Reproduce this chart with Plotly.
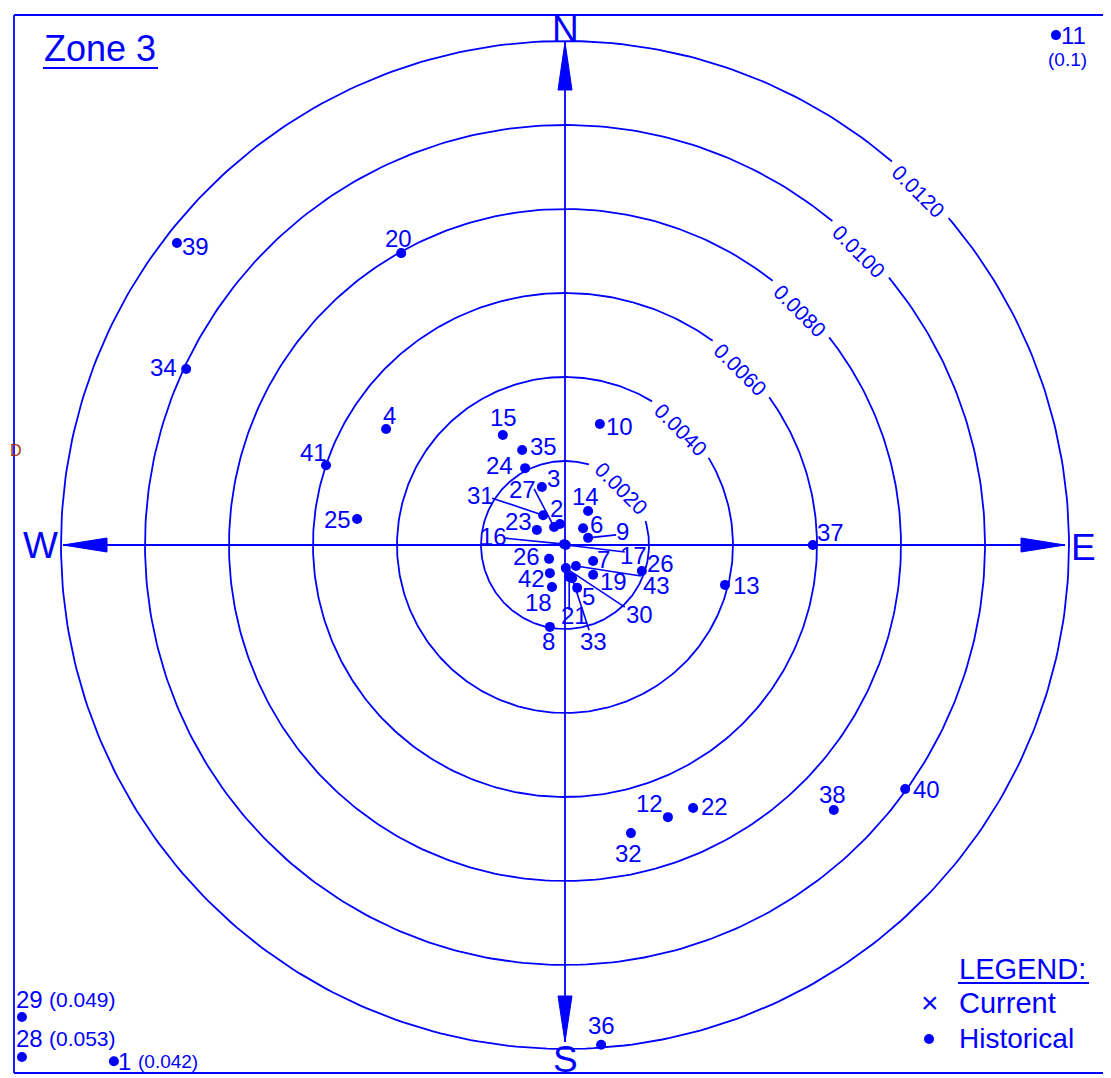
import math
import plotly.graph_objects as go

# ---------------- data (displacement East / North) ----------------
point_ids = ["1", "2", "3", "4", "5", "6", "7", "8", "9", "10", "11", "12", "13", "14",
             "15", "16", "17", "18", "19", "20", "21", "22", "23", "24", "25", "26", "26",
             "27", "28", "29", "30", "31", "32", "33", "34", "35", "36", "37", "38", "39",
             "40", "41", "42", "43"]
east = [-0.01074, -0.00012, -0.00055, -0.00426, 0.00029, 0.00043, 0.00067, -0.00036,
        0.00055, 0.00083, 0.01169, 0.00245, 0.00381, 0.00055, -0.00148, -0.00002,
        0.00002, -0.00031, 0.00067, -0.00390, 0.00010, 0.00305, -0.00067, -0.00095,
        -0.00495, -0.00038, 0.00183, -0.00026, -0.01293, -0.01293, 0.00002, -0.00052,
        0.00157, 0.00017, -0.00902, -0.00102, 0.00086, 0.00590, 0.00640, -0.00924,
        0.00810, -0.00569, -0.00036, 0.00026]
north = [-0.01229, 0.00050, 0.00138, 0.00276, -0.00102, 0.00040, -0.00038, -0.00195,
         0.00017, 0.00288, 0.01214, -0.00648, -0.00095, 0.00081, 0.00262, 0.00002,
         0.00000, -0.00100, -0.00071, 0.00695, -0.00076, -0.00626, 0.00036, 0.00183,
         0.00062, -0.00033, -0.00062, 0.00043, -0.01219, -0.01124, -0.00055, 0.00071,
         -0.00686, -0.00079, 0.00419, 0.00226, -0.01190, 0.00000, -0.00631, 0.00719,
         -0.00581, 0.00190, -0.00067, -0.00050]
# off-scale total movements noted in parentheses
offscale_note = {"1": "(0.042)", "11": "(0.1)", "28": "(0.053)", "29": "(0.049)"}
ring_values = [0.0020, 0.0040, 0.0060, 0.0080, 0.0100, 0.0120]
ring_labels = ["0.0020", "0.0040", "0.0060", "0.0080", "0.0100", "0.0120"]

# ---------------- layout helpers (page pixels) ----------------
PAGE_W, PAGE_H = 1111, 1078
OFF = 8  # browser body margin
W, H = PAGE_W - OFF, PAGE_H - OFF
CX, CY = 565, 545
S = 42000.0  # pixels per unit


def px(x, y):
    return (x - CX) / S, (CY - y) / S


BLUE = "#0000FF"
FONT = "Liberation Sans"
NUM_SIZE = 24

# label offsets in pixels (dx right, dy down) and optional leader ends
label_off = [(11, 0), (-3, -16), (12, -9), (3, -14), (11, 9), (13, -4), (10, -1), (-1, 15),
             (34, -6), (20, 2), (18, 0), (-18, -14), (21, 1), (-3, -14), (1, -17),
             (-71, -8), (68, 10), (-13, 15), (20, 7), (-3, -15), (5, 39), (21, -1),
             (-18, -8), (-26, -3), (-20, 1), (-23, -2), (19, -8), (-32, -37), (8, -18),
             (8, -18), (74, 46), (-63, -20), (-2, 20), (21, 63), (-23, -2), (21, -4),
             (0, -19), (18, -13), (-1, -16), (19, 3), (21, 0), (-13, -13), (-18, 5),
             (81, 19)]
leader_end = {8: (28, -3), 15: (-59, -6), 16: (59, 7), 20: (0, 33), 27: (-20, -38),
              30: (59, 39), 31: (-51, -17), 33: (17, 52), 43: (65, 10)}
# note placement: (dx, dy, anchor, size)
note_off = {"1": (22, 0, "left", 19), "11": (12, 24, "center", 19),
            "28": (25, -18, "left", 21), "29": (25, -18, "left", 21)}

fig = go.Figure()

# rings with gaps for their labels
for val, lab in zip(ring_values, ring_labels):
    r = val * S
    half = math.degrees(math.asin(40.0 / r))
    a0, a1 = 45 + half, 45 - half + 360
    n = 400
    xs, ys = [], []
    for i in range(n + 1):
        a = math.radians(a0 + (a1 - a0) * i / n)
        xs.append(val * math.cos(a))
        ys.append(val * math.sin(a))
    fig.add_trace(go.Scatter(x=xs, y=ys, mode="lines", line=dict(color=BLUE, width=1.8),
                             hoverinfo="skip", showlegend=False))
    lx = val * math.cos(math.radians(45)) - 3 / S
    ly = val * math.sin(math.radians(45)) - 3 / S
    fig.add_annotation(x=lx, y=ly, xref="x", yref="y", text=lab, showarrow=False,
                       textangle=45, font=dict(family=FONT, size=21, color=BLUE))

# compass axes
x0, _ = px(63, 0)
x1, _ = px(1065, 0)
_, y0 = px(0, 42)
_, y1 = px(0, 1042)
fig.add_trace(go.Scatter(x=[x0, x1, None, 0, 0], y=[0, 0, None, y0, y1], mode="lines",
                         line=dict(color=BLUE, width=1.8), hoverinfo="skip", showlegend=False))


def tri(p1, p2, p3):
    a, b, c = px(*p1), px(*p2), px(*p3)
    return f"M {a[0]},{a[1]} L {b[0]},{b[1]} L {c[0]},{c[1]} Z"


arrows = [tri((565, 42), (558, 90), (572, 90)), tri((565, 1042), (558, 996), (572, 996)),
          tri((63, 545), (107, 538), (107, 552)), tri((1065, 545), (1021, 538), (1021, 552))]
for p in arrows:
    fig.add_shape(type="path", path=p, xref="x", yref="y", fillcolor=BLUE,
                  line=dict(color=BLUE, width=1))

for t, (x, y) in {"N": (565, 29), "S": (565, 1059), "W": (40, 545), "E": (1083, 547)}.items():
    dx, dy = px(x, y)
    fig.add_annotation(x=dx, y=dy, xref="x", yref="y", text=t, showarrow=False,
                       font=dict(family=FONT, size=37, color=BLUE))

# leaders
lx, ly = [], []
for i, (dx2, dy2) in leader_end.items():
    lx += [east[i], east[i] + dx2 / S, None]
    ly += [north[i], north[i] - dy2 / S, None]
fig.add_trace(go.Scatter(x=lx, y=ly, mode="lines", line=dict(color=BLUE, width=1.6),
                         hoverinfo="skip", showlegend=False))

# points
fig.add_trace(go.Scatter(x=east, y=north, mode="markers",
                         marker=dict(color=BLUE, size=10), hoverinfo="skip", showlegend=False))

for i, pid in enumerate(point_ids):
    dx, dy = label_off[i]
    fig.add_annotation(x=east[i], y=north[i], xref="x", yref="y", text=pid, showarrow=False,
                       xshift=dx, yshift=-dy, borderpad=0,
                       font=dict(family=FONT, size=NUM_SIZE, color=BLUE))
    if pid in offscale_note:
        ndx, ndy, anc, sz = note_off[pid]
        fig.add_annotation(x=east[i], y=north[i], xref="x", yref="y",
                           text=offscale_note[pid], showarrow=False, xanchor=anc,
                           xshift=ndx, yshift=-ndy, font=dict(family=FONT, size=sz, color=BLUE))


# border and decorations (page pixels converted to data units)
def seg(p1, p2, color=BLUE, width=1.8):
    a, b = px(*p1), px(*p2)
    fig.add_shape(type="line", x0=a[0], y0=a[1], x1=b[0], y1=b[1], xref="x", yref="y",
                  line=dict(color=color, width=width))


seg((14, 15), (1112, 15))
seg((14, 15), (14, 1073))
seg((14, 1073), (1112, 1073))
seg((1078, 0), (1112, 10), color="#888888", width=1.2)
seg((43, 68), (158, 68), width=2)
seg((958, 983), (1089, 983), width=2)


def txt(t, x, y, size, anchor="center", color=BLUE):
    dx, dy = px(x, y)
    fig.add_annotation(x=dx, y=dy, xref="x", yref="y", text=t, showarrow=False,
                       xanchor=anchor, font=dict(family=FONT, size=size, color=color))


txt("Zone 3", 100, 48, 36)
txt("LEGEND:", 957, 969, 29, anchor="left")
txt("Current", 957, 1003, 29, anchor="left")
txt("Historical", 957, 1038, 28, anchor="left")
txt("×", 930, 1002, 30)
txt("D", 8, 450, 16, anchor="left", color="#A83200")
mx, my = px(929, 1039)
fig.add_trace(go.Scatter(x=[mx], y=[my], mode="markers", marker=dict(color=BLUE, size=10),
                         hoverinfo="skip", showlegend=False))

xa, ya = px(OFF, OFF)
xb, yb = px(PAGE_W, PAGE_H)
fig.update_layout(width=W, height=H, margin=dict(l=0, r=0, t=0, b=0),
                  paper_bgcolor="white", plot_bgcolor="white", showlegend=False,
                  xaxis=dict(range=[xa, xb], visible=False, fixedrange=True),
                  yaxis=dict(range=[yb, ya], visible=False, fixedrange=True))
fig.write_html("out.html")
